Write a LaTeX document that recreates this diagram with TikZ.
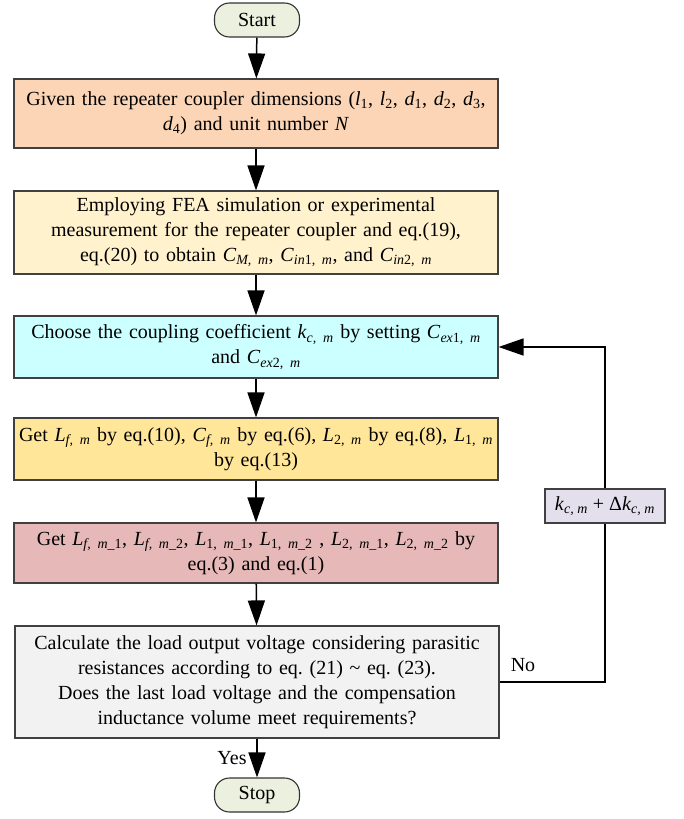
\documentclass[tikz,border=0pt]{standalone}
\usepackage{fontspec}
\setmainfont{Liberation Serif}
\usetikzlibrary{arrows.meta}
\usetikzlibrary{positioning}
\frenchspacing

\definecolor{termfill}{HTML}{EBF1DE}
\definecolor{givenfill}{HTML}{FBD5B5}
\definecolor{feafill}{HTML}{FFF2CC}
\definecolor{choosefill}{HTML}{CCFFFF}
\definecolor{getfill}{HTML}{FFE699}
\definecolor{splitfill}{HTML}{E6B9B8}
\definecolor{checkfill}{HTML}{F2F2F2}
\definecolor{updatefill}{HTML}{E4DFEC}

\newcommand{\sv}[2]{\textit{#1}\textsubscript{#2}}

\begin{document}
\begin{tikzpicture}[x=1pt,y=-1pt,
    font=\fontsize{20}{25}\selectfont,
    procbox/.style={draw=black!75, line width=1.1pt, minimum width=484pt,
      text width=480pt, inner xsep=2pt, align=center},
    termbox/.style={draw=black!80, line width=1.1pt, fill=termfill,
      rounded corners=15pt, minimum width=85pt, minimum height=34pt},
    flowarrow/.style={line width=1.5pt, -{Triangle[length=25pt,width=17pt]}}
  ]
      \useasboundingbox (0,0) rectangle (683,819);

      % main column
      \node[termbox] (start) at (257,20) {Start};
      \node[procbox, fill=givenfill, minimum height=69pt] (given) at (256,113.5)
        {Given the repeater coupler dimensions (\sv{l}{1}, \sv{l}{2}, \sv{d}{1}, \sv{d}{2}, \sv{d}{3},\\
         \sv{d}{4}) and unit number \textit{N}};
      \node[procbox, fill=feafill, minimum height=83pt] (fea) at (256,232.5)
        {Employing FEA simulation or experimental\\
         measurement for the repeater coupler and eq.(19),\\
         eq.(20) to obtain \sv{C}{\textit{M, m}}, \sv{C}{\textit{in}1, \textit{m}}, and \sv{C}{\textit{in}2, \textit{m}}};
      \node[procbox, fill=choosefill, minimum height=62pt] (choose) at (256,347)
        {Choose the coupling coefficient \sv{k}{\textit{c, m}} by setting \sv{C}{\textit{ex}1, \textit{m}}\\
         and \sv{C}{\textit{ex}2, \textit{m}}};
      \node[procbox, fill=getfill, minimum height=62pt] (getlf) at (256,449)
        {Get \sv{L}{\textit{f, m}} by eq.(10), \sv{C}{\textit{f, m}} by eq.(6), \sv{L}{2, \textit{m}} by eq.(8), \sv{L}{1, \textit{m}}\\
         by eq.(13)};
      \node[procbox, fill=splitfill, minimum height=60pt] (getsplit) at (256,553)
        {Get \sv{L}{\textit{f, m}\_1}, \sv{L}{\textit{f, m}\_2}, \sv{L}{1, \textit{m}\_1}, \sv{L}{1, \textit{m}\_2} , \sv{L}{2, \textit{m}\_1}, \sv{L}{2, \textit{m}\_2} by\\
         eq.(3) and eq.(1)};
      \node[procbox, fill=checkfill, minimum height=112pt] (check) at (257,682)
        {Calculate the load output voltage considering parasitic\\
         resistances according to eq. (21) \textasciitilde{} eq. (23).\\
         Does the last load voltage and the compensation\\
         inductance volume meet requirements?};
      \node[termbox] (stop) at (257,795) {Stop};

      % loop back
      \node[draw=black!75, line width=1.1pt, fill=updatefill, minimum width=120pt,
        minimum height=34pt] (update) at (605,506)
        {\sv{k}{\textit{c, m}} + Δ\sv{k}{\textit{c, m}}};
      \node (no) at (523,665) {No};
      \node (yes) at (232,758) {Yes};

      \draw[flowarrow] (start) -- (given);
      \draw[flowarrow] (given) -- (fea);
      \draw[flowarrow] (fea) -- (choose);
      \draw[flowarrow] (choose) -- (getlf);
      \draw[flowarrow] (getlf) -- (getsplit);
      \draw[flowarrow] (getsplit) -- (check);
      \draw[flowarrow] (check) -- (stop);
      \draw[line width=1.5pt] (check.east) -| (update.south);
      \draw[flowarrow] (update.north) |- (choose.east);

\end{tikzpicture}
\end{document}
